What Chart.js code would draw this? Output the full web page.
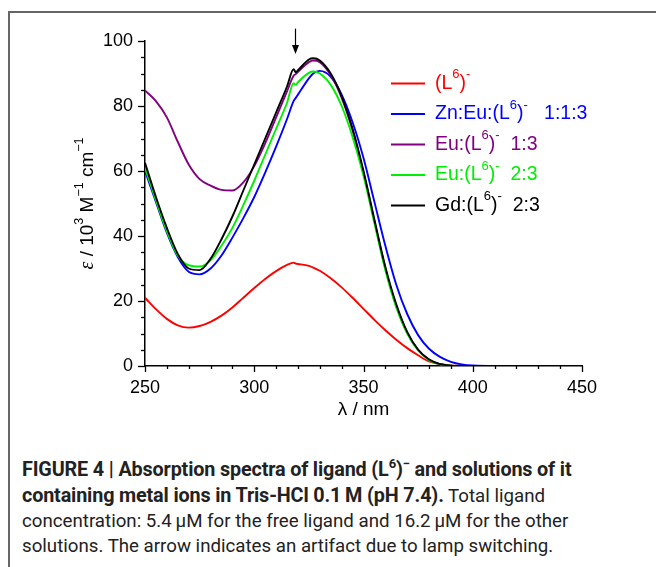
<!DOCTYPE html>
<html>
<head>
<meta charset="utf-8">
<script src="https://cdn.jsdelivr.net/npm/chart.js@4.4.1/dist/chart.umd.min.js"></script>
<style>
  html, body { margin: 0; padding: 0; background: #fff; }
  body { width: 656px; height: 567px; position: relative; overflow: hidden; }
  #frame { position: absolute; left: 8px; top: 11px; width: 700px; height: 600px;
           border-top: 2px solid #666; border-left: 2px solid #666; }
  #wrap { position: absolute; left: 0; top: 0; width: 656px; height: 430px; }
  #caption { position: absolute; left: 22px; top: 457px; width: 634px; color: #222;
             font-family: "Liberation Sans Narrow", "Roboto", Arial, sans-serif;
             font-size: 18.7px; line-height: 25px; white-space: nowrap; }
  #caption b { font-size: 19.8px; letter-spacing: -0.15px; }
  #caption sup { font-size: 13px; line-height: 0; }
</style>
</head>
<body>
<div id="frame"></div>
<div id="wrap"><canvas id="chart" width="656" height="430"></canvas></div>
<div id="caption"><b>FIGURE 4 | Absorption spectra of ligand (L<sup>6</sup>)<sup>&minus;</sup> and solutions of it<br>containing metal ions in Tris-HCl 0.1&thinsp;M (pH 7.4).</b> Total ligand<br>concentration: 5.4&thinsp;&mu;M for the free ligand and 16.2&thinsp;&mu;M for the other<br>solutions. The arrow indicates an artifact due to lamp switching.</div>

<script>
// wavelength grid (nm) shared by all spectra
const wavelengths = [250, 255, 260, 265, 270, 275, 280, 285, 290, 295, 300, 305, 310, 315, 318, 319, 320,
                     325, 327, 330, 335, 340, 345, 350, 355, 360, 365, 370, 375, 380, 385, 390, 395, 400,
                     410, 420, 430, 440, 450];

// epsilon / 10^3 M-1 cm-1
const ligand = [21, 17.5, 14.5, 12.5, 11.8, 12.3, 13.6, 15.5, 18, 21, 24, 26.8, 29.2, 31.1, 31.8, 31.5, 31.4,
                30.8, 30.3, 29.3, 27, 24.2, 21, 17.6, 14.2, 11, 8.1, 5.5, 3.3, 1.4, 0.6, 0.2, 0.05, 0,
                0, 0, 0, 0, 0];
const znEu113 = [60, 50.5, 41, 33.5, 29, 28.2, 30, 34, 39.5, 45.5, 52, 59.5, 67.5, 76, 81.5, 82.5, 83.5,
                 88.5, 90, 90.8, 89, 83.5, 75, 64, 50.5, 37, 25, 16, 9.5, 5.3, 2.8, 1.3, 0.5, 0.15,
                 0, 0, 0, 0, 0];
const eu13 = [84.8, 81.5, 76.5, 69, 62, 57.5, 55.5, 54.2, 54, 56.5, 61.5, 68.5, 76.5, 84.5, 89.3, 89.8, 90.5,
              93.5, 94, 93.5, 89.5, 82.5, 72.5, 59.5, 44.5, 30, 18.5, 10.2, 5, 2, 0.6, 0.1, 0, 0,
              0, 0, 0, 0, 0];
const eu23 = [61, 51, 41.5, 34, 31, 30.6, 32.5, 37, 42.5, 49.5, 57, 65, 73, 81, 87, 86.5, 87.3,
              90.2, 90.6, 90, 86.5, 80, 70.5, 58.5, 44, 29.5, 18, 10, 4.8, 1.8, 0.5, 0.1, 0, 0,
              0, 0, 0, 0, 0];
const gd23 = [62.5, 52, 42.5, 34.5, 30, 29.5, 33, 39, 46, 54, 62, 70, 78, 86, 91.3, 90.4, 91,
              94.3, 94.7, 94, 90, 83, 73, 60, 45, 30.5, 19, 10.5, 5, 2, 0.6, 0.1, 0, 0,
              0, 0, 0, 0, 0];

const seriesNames = ["(L6)-", "Zn:Eu:(L6)- 1:1:3", "Eu:(L6)- 1:3", "Eu:(L6)- 2:3", "Gd:(L6)- 2:3"];
const namePrefix = ["", "Zn:Eu:", "Eu:", "Eu:", "Gd:"];
const nameSuffix = ["", "   1:1:3", "  1:3", "  2:3", "  2:3"];

const xTicks = [250, 300, 350, 400, 450];
const yTicks = [0, 20, 40, 60, 80, 100];

// artifact arrow (nm, from / to in epsilon units)
const arrowNm = 318.5;
const arrowFrom = 103.8;
const arrowTo = 96;

const colors = ["#ff0000", "#0000ff", "#800080", "#00ee00", "#000000"];
const allSeries = [ligand, znEu113, eu13, eu23, gd23];

const FONT = "'Liberation Sans', Arial, sans-serif";

function drawSupText(ctx, pieces, x, y, rise) {
  // pieces: [text, isSup, font, supFont]
  let cx = x;
  pieces.forEach(([t, sup, font, supFont]) => {
    ctx.font = sup ? supFont : font;
    ctx.fillText(t, cx, sup ? y - rise : y);
    cx += ctx.measureText(t).width;
  });
  return cx;
}

const extrasPlugin = {
  id: "extras",
  afterDraw(chart) {
    const ctx = chart.ctx;
    const xs = chart.scales.x, ys = chart.scales.y;
    const area = chart.chartArea;
    ctx.save();
    ctx.strokeStyle = "#000";
    ctx.lineWidth = 1.3;
    // y ticks every 5, major every 20
    for (let v = 0; v <= 100; v += 5) {
      const py = Math.round(ys.getPixelForValue(v)) + 0.5;
      const len = v % 20 === 0 ? 7 : 4;
      ctx.beginPath();
      ctx.moveTo(area.left, py);
      ctx.lineTo(area.left - len, py);
      ctx.stroke();
    }
    // x ticks every 10, major every 50
    for (let w = 250; w <= 450; w += 10) {
      const px = Math.round(xs.getPixelForValue(w)) + 0.5;
      const len = w % 50 === 0 ? 6 : 3;
      ctx.beginPath();
      ctx.moveTo(px, area.bottom);
      ctx.lineTo(px, area.bottom + len);
      ctx.stroke();
    }

    // y axis title with superscripts
    const tf = "19px " + FONT, sf = "12.5px " + FONT;
    const epsFont = "italic 20px 'Liberation Serif', serif";
    const yPieces = [["\u03b5", false, epsFont, sf], [" / 10", false, tf, sf], ["3", true, tf, sf],
                     [" M", false, tf, sf], ["\u22121", true, tf, sf], [" cm", false, tf, sf], ["\u22121", true, tf, sf]];
    let total = 0;
    yPieces.forEach(([t, sup, f, s]) => { ctx.font = sup ? s : f; total += ctx.measureText(t).width; });
    ctx.save();
    ctx.translate(88, (area.top + area.bottom) / 2);
    ctx.rotate(-Math.PI / 2);
    ctx.fillStyle = "#000";
    ctx.textBaseline = "middle";
    drawSupText(ctx, yPieces, -total / 2, 0, 8);
    ctx.restore();

    // legend
    const lf = "19.5px " + FONT, lsf = "13px " + FONT;
    ctx.textBaseline = "middle";
    seriesNames.forEach((name, i) => {
      const ly = 83.5 + i * 30.5;
      ctx.strokeStyle = colors[i];
      ctx.lineWidth = 1.8;
      ctx.beginPath();
      ctx.moveTo(391, ly);
      ctx.lineTo(425, ly);
      ctx.stroke();
      ctx.fillStyle = colors[i];
      drawSupText(ctx, [[namePrefix[i] + "(L", false, lf, lsf], ["6", true, lf, lsf], [")", false, lf, lsf],
                        ["-", true, lf, lsf], [nameSuffix[i], false, lf, lsf]], 435, ly, 9);
    });

    // arrow marking the lamp switch artifact
    const ax = Math.round(xs.getPixelForValue(arrowNm)) + 0.5;
    const ay1 = ys.getPixelForValue(arrowFrom);
    const ay2 = ys.getPixelForValue(arrowTo);
    ctx.strokeStyle = "#000";
    ctx.fillStyle = "#000";
    ctx.lineWidth = 1.2;
    ctx.beginPath();
    ctx.moveTo(ax, ay1);
    ctx.lineTo(ax, ay2 - 6);
    ctx.stroke();
    ctx.beginPath();
    ctx.moveTo(ax - 3.5, ay2 - 9);
    ctx.lineTo(ax + 3.5, ay2 - 9);
    ctx.lineTo(ax, ay2);
    ctx.closePath();
    ctx.fill();
    ctx.restore();
  }
};

const datasets = allSeries.map((vals, i) => ({
  label: seriesNames[i],
  data: wavelengths.map((w, j) => ({ x: w, y: vals[j] })),
  borderColor: colors[i],
  borderWidth: 1.9,
  pointRadius: 0,
  fill: false,
  cubicInterpolationMode: "monotone",
  order: 5 - i
}));

new Chart(document.getElementById("chart"), {
  type: "line",
  data: { datasets: datasets },
  options: {
    responsive: false,
    animation: false,
    layout: { padding: { left: 0, right: 74, top: 41, bottom: 0 } },
    plugins: { legend: { display: false }, tooltip: { enabled: false } },
    scales: {
      x: {
        type: "linear", min: 250, max: 450,
        afterBuildTicks: s => { s.ticks = xTicks.map(v => ({ value: v })); },
        afterFit: s => { s.height = 64; },
        grid: { display: false, drawTicks: false },
        border: { display: true, color: "#000", width: 1.5 },
        ticks: { color: "#000", font: { size: 18, family: FONT }, padding: 11, maxRotation: 0 },
        title: { display: true, text: "\u03bb / nm", color: "#000", font: { size: 19, family: FONT }, padding: { top: 0, bottom: 9 } }
      },
      y: {
        min: 0, max: 100,
        afterBuildTicks: s => { s.ticks = yTicks.map(v => ({ value: v })); },
        afterFit: s => { s.width = 145; },
        grid: { display: false, drawTicks: false },
        border: { display: true, color: "#000", width: 1.5 },
        ticks: { color: "#000", font: { size: 18, family: FONT }, padding: 12 }
      }
    }
  },
  plugins: [extrasPlugin]
});
</script>
</body>
</html>
